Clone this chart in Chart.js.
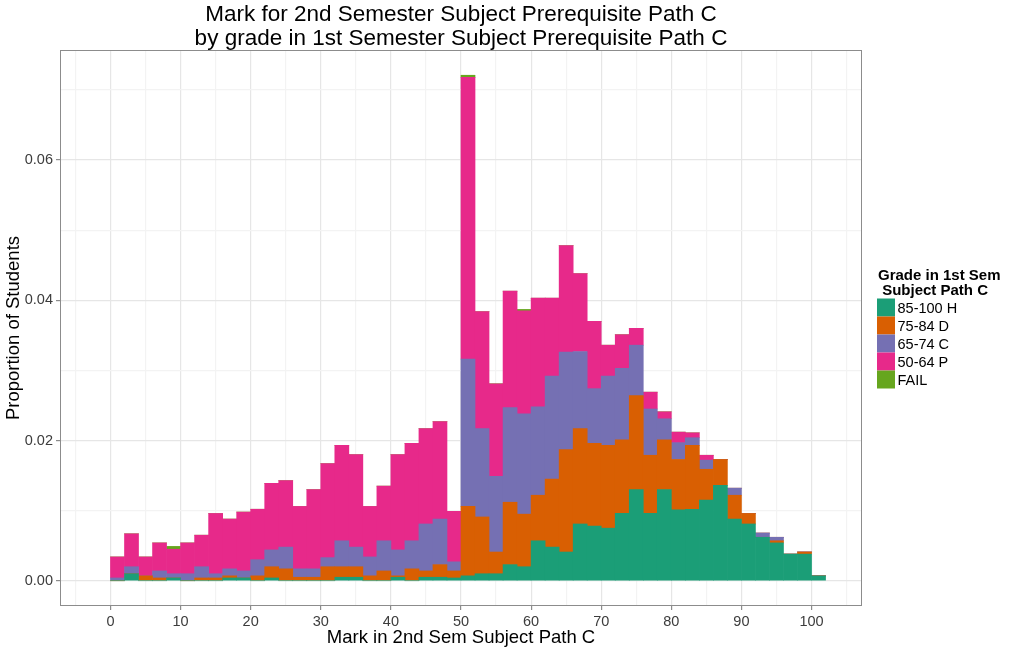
<!DOCTYPE html>
<html>
<head>
<meta charset="utf-8">
<script src="https://cdn.jsdelivr.net/npm/chart.js@4"></script>
<style>
  body { margin: 0; background: #fff; }
</style>
</head>
<body>
<canvas id="histChart" width="1014" height="652"></canvas>
<script>
        // bin centres (bins are 2 marks wide: 0-2, 2-4, ... 100-102)
        const binCenters = [1, 3, 5, 7, 9, 11, 13, 15, 17, 19,
            21, 23, 25, 27, 29, 31, 33, 35, 37, 39,
            41, 43, 45, 47, 49, 51, 53, 55, 57, 59,
            61, 63, 65, 67, 69, 71, 73, 75, 77, 79,
            81, 83, 85, 87, 89, 91, 93, 95, 97, 99,
            101];

        // proportion of students per bin, one array per 1st sem grade
        const gradeH = [0, .0010, 0, 0, .0004, 0, 0, 0, .0004, .0004,
            0, .0004, 0, 0, 0, 0, .0005, .0005, 0, 0,
            .0005, 0, .0005, .0005, .0004, .0007, .0010, .0010, .0023, .0020,
            .0057, .0048, .0041, .0081, .0078, .0075, .0096, .0130, .0096, .0130,
            .0101, .0102, .0115, .0136, .0088, .0081, .0062, .0054, .0038, .0038,
            .0007];
        const gradeD = [0, 0, .0007, .0004, 0, 0, .0004, .0004, .0003, 0,
            .0007, .0016, .0017, .0005, .0005, .0020, .0015, .0015, .0007, .0014,
            .0002, .0017, .0009, .0018, .0010, .0099, .0081, .0031, .0089, .0075,
            .0065, .0097, .0146, .0136, .0118, .0118, .0105, .0134, .0083, .0071,
            .0072, .0091, .0044, .0037, .0034, .0015, 0, .0003, 0, .0003,
            0];
        const gradeC = [.0004, .0010, 0, .0010, .0006, .0010, .0016, .0006, .0010, .0010,
            .0023, .0024, .0031, .0012, .0012, .0013, .0037, .0028, .0027, .0043,
            .0037, .0040, .0067, .0065, .0013, .0210, .0126, .0108, .0135, .0143,
            .0126, .0147, .0139, .0110, .0078, .0099, .0102, .0072, .0066, .0030,
            .0024, .0011, .0013, 0, .0010, 0, .0006, .0005, 0, 0,
            0];
        const gradeP = [.0030, .0047, .0027, .0040, .0035, .0044, .0045, .0086, .0071, .0084,
            .0072, .0095, .0095, .0089, .0113, .0134, .0136, .0132, .0072, .0078,
            .0136, .0139, .0136, .0139, .0072, .0402, .0167, .0132, .0166, .0147,
            .0155, .0111, .0152, .0111, .0096, .0044, .0048, .0024, .0024, .0010,
            .0015, .0007, .0007, 0, 0, 0, 0, 0, 0, 0,
            0];
        const gradeFail = [0, 0, 0, 0, .0004, 0, 0, 0, 0, 0,
            0, 0, 0, 0, 0, 0, 0, 0, 0, 0,
            0, 0, 0, 0, 0, .0003, 0, 0, 0, .0002,
            0, 0, 0, 0, 0, 0, 0, 0, 0, 0,
            0, 0, 0, 0, 0, 0, 0, 0, 0, 0,
            0];

        const seriesNames = ['85-100 H', '75-84 D', '65-74 C', '50-64 P', 'FAIL'];
        const seriesColors = ['#1B9E77', '#D95F02', '#7570B3', '#E7298A', '#66A61E'];
        const seriesValues = [gradeH, gradeD, gradeC, gradeP, gradeFail];

        // ticks every 5, labels only on the major ones
        const xTickValues = [-5, 0, 5, 10, 15, 20, 25, 30, 35, 40, 45, 50,
            55, 60, 65, 70, 75, 80, 85, 90, 95, 100, 105];
        const xTickLabels = ['', '0', '', '10', '', '20', '', '30', '', '40', '', '50',
            '', '60', '', '70', '', '80', '', '90', '', '100', ''];
        const yTickValues = [0, 0.01, 0.02, 0.03, 0.04, 0.05, 0.06, 0.07];
        const yTickLabels = ['0.00', '', '0.02', '', '0.04', '', '0.06', ''];

        const legendTitle = ['Grade in 1st Sem', ' Subject Path C'];

        const FONT = "'Liberation Sans', Arial, sans-serif";
        Chart.defaults.font.family = FONT;

        const majorGrid = '#E6E6E6';
        const minorGrid = '#F3F3F3';
        const tickGrey = '#8C8C8C';

        // panel border + ggplot style legend on the right
        const panelAndLegend = {
            id: 'panelAndLegend',
            afterDatasetsDraw(chart) {
                const { ctx, chartArea } = chart;
                ctx.save();
                ctx.strokeStyle = tickGrey;
                ctx.lineWidth = 1;
                ctx.strokeRect(chartArea.left + 0.5, chartArea.top + 0.5,
                    chartArea.right - chartArea.left - 1, chartArea.bottom - chartArea.top - 1);
                ctx.restore();
            },
            afterDraw(chart) {
                const ctx = chart.ctx;
                ctx.save();
                ctx.textBaseline = 'middle';
                ctx.fillStyle = '#000';
                ctx.font = 'bold 15px ' + FONT;
                ctx.fillText(legendTitle[0], 878, 275.5);
                ctx.fillText(legendTitle[1], 878, 290.5);
                ctx.font = '14.5px ' + FONT;
                chart.data.datasets.forEach((ds, i) => {
                    const top = 298.5 + i * 18;
                    ctx.fillStyle = ds.backgroundColor;
                    ctx.fillRect(877, top, 18, 18);
                    ctx.fillStyle = '#000';
                    ctx.fillText(ds.label, 897.5, top + 10);
                });
                ctx.restore();
            }
        };

        const datasets = seriesNames.map((name, i) => ({
            label: name,
            data: binCenters.map((x, j) => ({ x: x, y: seriesValues[i][j] })),
            backgroundColor: seriesColors[i],
            borderWidth: 0,
            barPercentage: 1,
            categoryPercentage: 1
        }));

        new Chart(document.getElementById('histChart'), {
            type: 'bar',
            data: { datasets: datasets },
            plugins: [panelAndLegend],
            options: {
                responsive: false,
                animation: false,
                layout: { padding: { left: 0, right: 152, top: 0, bottom: 0 } },
                plugins: {
                    legend: { display: false },
                    tooltip: { enabled: false },
                    title: {
                        display: true,
                        fullSize: false,
                        text: ['Mark for 2nd Semester Subject Prerequisite Path C',
                            'by grade in 1st Semester Subject Prerequisite Path C'],
                        color: '#000',
                        font: { size: 22.5, weight: 'normal', lineHeight: '24.5px' },
                        padding: { top: 2.5, bottom: -1.5 }
                    }
                },
                scales: {
                    x: {
                        type: 'linear',
                        min: -7.2,
                        max: 107.2,
                        stacked: true,
                        offset: false,
                        afterBuildTicks: axis => { axis.ticks = xTickValues.map(v => ({ value: v })); },
                        afterFit: axis => { axis.height = 46; },
                        border: { display: false },
                        grid: {
                            offset: false,
                            color: c => xTickLabels[c.index] ? majorGrid : minorGrid,
                            lineWidth: 1.2,
                            tickLength: 4,
                            tickColor: c => xTickLabels[c.index] ? tickGrey : 'rgba(0,0,0,0)'
                        },
                        ticks: {
                            autoSkip: false,
                            maxRotation: 0,
                            padding: 3,
                            color: '#3C3C3C',
                            font: { size: 14.5 },
                            callback: (v, i) => xTickLabels[i]
                        },
                        title: {
                            display: true,
                            text: 'Mark in 2nd Sem Subject Path C',
                            color: '#000',
                            font: { size: 18.5 },
                            padding: { top: 0, bottom: 3 }
                        }
                    },
                    y: {
                        type: 'linear',
                        min: -0.0036,
                        max: 0.0757,
                        stacked: true,
                        afterBuildTicks: axis => { axis.ticks = yTickValues.map(v => ({ value: v })); },
                        afterFit: axis => { axis.width = 60; },
                        border: { display: false },
                        grid: {
                            color: c => yTickLabels[c.index] ? majorGrid : minorGrid,
                            lineWidth: 1.2,
                            tickLength: 4,
                            tickColor: c => yTickLabels[c.index] ? tickGrey : 'rgba(0,0,0,0)'
                        },
                        ticks: {
                            padding: 3,
                            color: '#3C3C3C',
                            font: { size: 14.5 },
                            callback: (v, i) => yTickLabels[i]
                        },
                        title: {
                            display: true,
                            text: 'Proportion of Students',
                            color: '#000',
                            font: { size: 18.5 },
                            padding: { top: 3, bottom: 0 }
                        }
                    }
                }
            }
        });
</script>
</body>
</html>
